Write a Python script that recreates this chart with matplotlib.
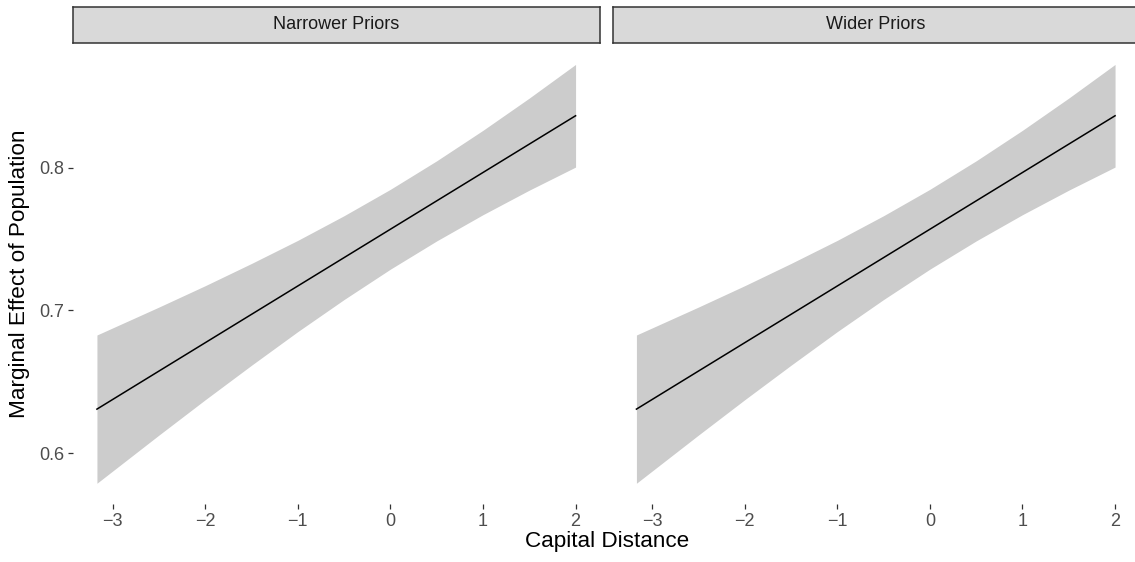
import matplotlib
matplotlib.use("Agg")
import matplotlib.pyplot as plt

plt.rcParams['font.family'] = ['Liberation Sans', 'DejaVu Sans']

# marginal effect of population along capital distance, posterior mean and band
capital_distance = [-3.17, -2.5, -2.0, -1.5, -1.0, -0.5, 0.0, 0.5, 1.0, 1.5, 2.0]
effect_mean = [0.6308, 0.6575, 0.6774, 0.6973, 0.7172, 0.7371, 0.7570,
               0.7769, 0.7968, 0.8167, 0.8366]
effect_lower = [0.5788, 0.6126, 0.6374, 0.6616, 0.6852, 0.7077, 0.7290,
                0.7488, 0.7672, 0.7844, 0.8006]
effect_upper = [0.6828, 0.7024, 0.7174, 0.7330, 0.7492, 0.7665, 0.7850,
                0.8050, 0.8264, 0.8490, 0.8726]

panels = ['Narrower Priors', 'Wider Priors']
x_ticks = [-3, -2, -1, 0, 1, 2]
y_ticks = [0.6, 0.7, 0.8]

W, H = 1135, 562


def px_rect(left, top, width, height):
    return [left / W, 1 - (top + height) / H, width / W, height / H]


def main():
    fig = plt.figure(figsize=(W / 100, H / 100), dpi=100)

    panel_left = [73, 612.5]
    panel_w = 526.5
    panel_top, panel_bottom = 43.5, 504.2
    strip_top = 7

    xmin, xmax = min(capital_distance), max(capital_distance)
    xpad = 0.05 * (xmax - xmin)
    ymin, ymax = min(effect_lower), max(effect_upper)
    ypad = 0.05 * (ymax - ymin)

    for i, name in enumerate(panels):
        ax = fig.add_axes(px_rect(panel_left[i], panel_top, panel_w,
                                  panel_bottom - panel_top))
        ax.fill_between(capital_distance, effect_lower, effect_upper,
                        color='#cccccc', linewidth=0)
        ax.plot(capital_distance, effect_mean, color='black', linewidth=1.1)
        ax.set_xlim(xmin - xpad, xmax + xpad)
        ax.set_ylim(ymin - ypad, ymax + ypad)
        ax.set_xticks(x_ticks)
        ax.set_yticks(y_ticks)
        for side in ['top', 'right', 'bottom', 'left']:
            ax.spines[side].set_visible(False)
        ax.tick_params(axis='both', length=3.3, width=0.9, color='#333333',
                       labelcolor='#4d4d4d', labelsize=13, pad=3.2)
        if i == 0:
            ax.set_yticklabels(['0.6', '0.7', '0.8'])
        else:
            ax.tick_params(axis='y', left=False, labelleft=False)

        strip = fig.add_axes(px_rect(panel_left[i], strip_top, panel_w,
                                     panel_top - strip_top - 1))
        strip.set_facecolor('#d9d9d9')
        strip.set_xticks([])
        strip.set_yticks([])
        for side in ['top', 'right', 'bottom', 'left']:
            strip.spines[side].set_color('#333333')
            strip.spines[side].set_linewidth(1.1)
        strip.text(0.5, 0.5, name, ha='center', va='center', fontsize=13,
                   color='#1a1a1a', transform=strip.transAxes)

    fig.text(607 / W, 1 - 547 / H, 'Capital Distance', ha='center',
             va='baseline', fontsize=16.2)
    fig.text(20 / W, 1 - 274 / H, 'Marginal Effect of Population',
             ha='center', va='center', rotation=90, fontsize=16.2)

    fig.savefig('out.png', dpi=100)


if __name__ == '__main__':
    main()
